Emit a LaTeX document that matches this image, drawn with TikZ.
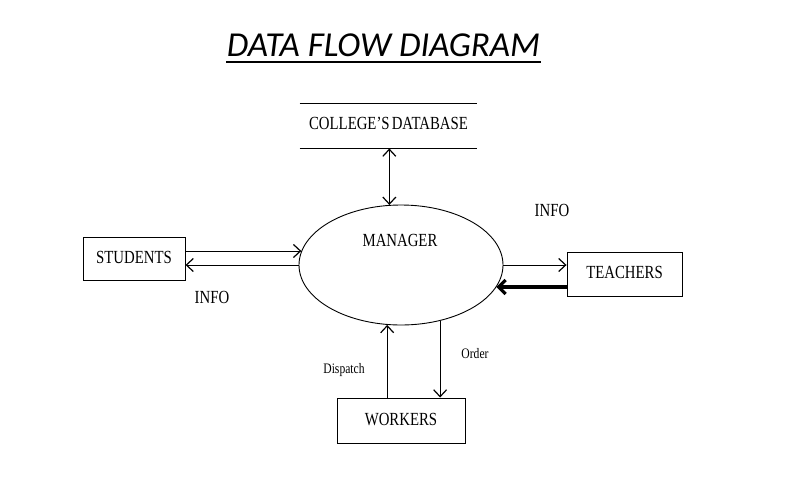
\documentclass[tikz,border=0pt]{standalone}
\usepackage{fontspec}
\setmainfont{Liberation Serif}
\newfontfamily\titlefont{Carlito}
\usetikzlibrary{shapes.geometric,arrows.meta}
\newcommand{\dfdlabel}[1]{{\fontsize{18.5}{21}\selectfont\scalebox{0.8}[1]{#1}}}
\newcommand{\dfdsmall}[1]{{\fontsize{14.5}{17}\selectfont\scalebox{0.8}[1]{#1}}}
\begin{document}
\begin{tikzpicture}[x=1pt,y=-1pt,line width=0.9pt,>={Straight Barb[length=7pt,width=13pt,line width=1.2pt]}]
    \tikzstyle{every node}+=[inner sep=0pt]
    \tikzstyle{entity}=[draw,black,rectangle]
    \tikzstyle{thickflow}=[line width=3.2pt,-{Straight Barb[length=7pt,width=14pt]}]
    \useasboundingbox (0,0) rectangle (792,485);
    \draw (383.5,56) node[anchor=base] (title) {\titlefont\itshape\fontsize{35}{40}\selectfont DATA FLOW DIAGRAM};
    \draw [line width=1.4pt] ([yshift=-6pt]title.base west) -- ([yshift=-6pt]title.base east);
    \draw (388.5,126) node[minimum width=177pt,minimum height=44pt] (db) {\raisebox{5pt}{\dfdlabel{COLLEGE'S\kern-2pt{} DATABASE}}};
    \draw (db.north west) -- (db.north east);
    \draw (db.south west) -- (db.south east);
    \draw (401,265) node[draw,ellipse,minimum width=204pt,minimum height=120pt] (mgr) {};
    \draw (400,240) node (mgrtext) {\dfdlabel{MANAGER}};
    \draw (134,258.5) node[entity,minimum width=102pt,minimum height=43pt] (stud) {\raisebox{3pt}{\dfdlabel{STUDENTS}}};
    \draw (624.5,274) node[entity,minimum width=115pt,minimum height=44pt] (tch) {\raisebox{3pt}{\dfdlabel{TEACHERS}}};
    \draw (401,420.5) node[entity,minimum width=128pt,minimum height=45pt] (wrk) {\raisebox{3pt}{\dfdlabel{WORKERS}}};
    \draw (212,297) node (info1) {\dfdlabel{INFO}};
    \draw (552,210) node (info2) {\dfdlabel{INFO}};
    \draw (344,370) node (dispatch) {\dfdsmall{Dispatch}};
    \draw (475,354) node (order) {\dfdsmall{Order}};
    \draw [<->] (mgr.101.4 |- db.south) -- (mgr.101.4);
    \draw [->] (stud.east |- mgr.172.6) -- (mgr.172.6);
    \draw [->] (mgr.west) -- (stud.east |- mgr.west);
    \draw [->] (mgr.east) -- (tch.west |- mgr.east);
    \draw [thickflow] (tch.west |- mgr.-13.7) -- (mgr.-13.7);
    \draw [->] (wrk.north -| mgr.257.7) -- (mgr.257.7);
    \draw [->] (mgr.-55) -- (wrk.north -| mgr.-55);
\end{tikzpicture}
\end{document}
